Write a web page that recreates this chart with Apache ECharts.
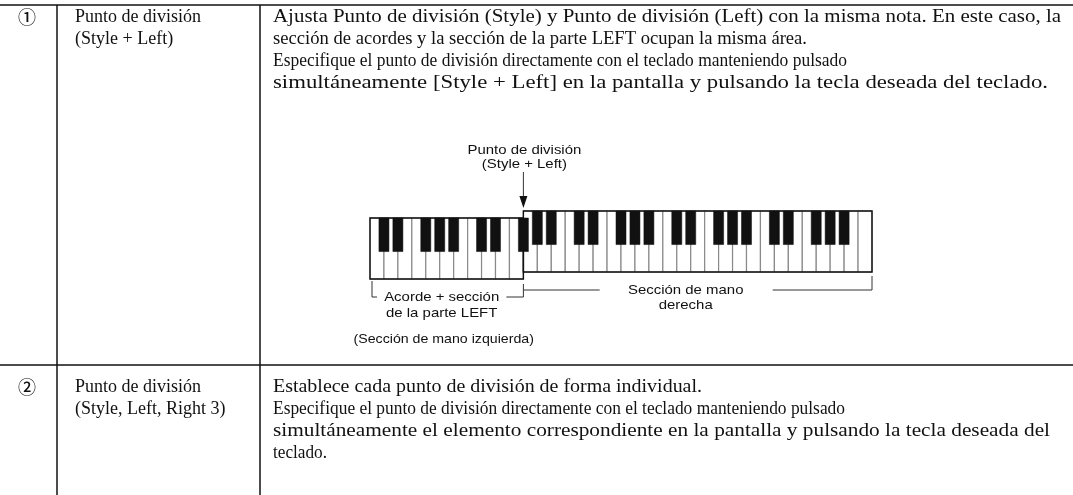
<!DOCTYPE html>
<html><head><meta charset="utf-8">
<script src="https://cdn.jsdelivr.net/npm/echarts@6/dist/echarts.min.js"></script>
<style>html,body{margin:0;padding:0;background:#fff}#c{width:1073px;height:495px}</style>
</head><body><div id="c"></div>
<script>
// ---- table content ----
const rowNumbers = ['①', '②'];
const rowTitles = [
  ['Punto de división', '(Style + Left)'],
  ['Punto de división', '(Style, Left, Right 3)']
];
const rowDescriptions = [
  ['Ajusta Punto de división (Style) y Punto de división (Left) con la misma nota. En este caso, la',
   'sección de acordes y la sección de la parte LEFT ocupan la misma área.',
   'Especifique el punto de división directamente con el teclado manteniendo pulsado',
   'simultáneamente [Style + Left] en la pantalla y pulsando la tecla deseada del teclado.'],
  ['Establece cada punto de división de forma individual.',
   'Especifique el punto de división directamente con el teclado manteniendo pulsado',
   'simultáneamente el elemento correspondiente en la pantalla y pulsando la tecla deseada del',
   'teclado.']
];
// ---- keyboard content ----
const whiteKeyNotes = ['C','D','E','F','G','A','B','C','D','E','F',
  'G','A','B','C','D','E','F','G','A','B','C','D','E','F','G','A','B','C','D','E','F','G','A','B','C'];
const blackKeyAfter = [0,1,3,4,5,7,8,10, 11,12,14,15,17,18,19,21,22,24,25,26,28,29,31,32,33];
const splitWhiteIndex = 11;
const splitLabel = ['Punto de división', '(Style + Left)'];
const leftSectionLabel = ['Acorde + sección', 'de la parte LEFT'];
const rightSectionLabel = ['Sección de mano', 'derecha'];
const leftHandNote = '(Sección de mano izquierda)';

// ---- layout (pixel widths the text lines occupy in the reference) ----
const descLineWidths = [[788, 534, 574, 775], [429, 572, 777, 54]];

const SERIF = "'Liberation Serif','Times New Roman',serif";
const SANS = "'Liberation Sans',Arial,sans-serif";
const SERIF_FONT = '18px ' + SERIF;
const SANS_FONT = '13px ' + SANS;
const SANS_STRETCH = 1.15;
const LEFT_DROP = 7;

const mctx = document.createElement('canvas').getContext('2d');
function measure(text, font) { mctx.font = font; return mctx.measureText(text).width; }

const chart = echarts.init(document.getElementById('c'), null, {renderer: 'canvas'});

const whiteData = whiteKeyNotes.map((n, i) => [i, i < splitWhiteIndex ? 0 : 1, n]);
const blackData = blackKeyAfter.map(i => [i + 1, i < splitWhiteIndex ? 0 : 1]);
const sectionData = [[0, splitWhiteIndex, 0], [splitWhiteIndex, whiteKeyNotes.length, 1]];

function whiteRender(params, api) {
  const i = api.value(0), sec = api.value(1);
  const p0 = api.coord([i, 1]), p1 = api.coord([i + 1, 0]);
  const dy = sec === 0 ? LEFT_DROP : 0;
  return {type: 'rect', shape: {x: p0[0], y: p0[1] + dy, width: p1[0] - p0[0], height: p1[1] - p0[1]},
    style: {fill: '#fff', stroke: '#8a8a8a', lineWidth: 1.2}};
}
function sectionRender(params, api) {
  const a = api.value(0), b = api.value(1), sec = api.value(2);
  const p0 = api.coord([a, 1]), p1 = api.coord([b, 0]);
  const dy = sec === 0 ? LEFT_DROP : 0;
  return {type: 'rect', shape: {x: p0[0], y: p0[1] + dy, width: p1[0] - p0[0], height: p1[1] - p0[1]},
    style: {fill: 'none', stroke: '#111', lineWidth: 1.4}};
}
function blackRender(params, api) {
  const c = api.value(0), sec = api.value(1);
  const top = api.coord([c, 1]), bot = api.coord([c, 0.45]);
  const w = api.size([0.72, 0])[0];
  const dy = sec === 0 ? LEFT_DROP : 0;
  return {type: 'rect', shape: {x: top[0] - w / 2, y: top[1] + dy, width: w, height: bot[1] - top[1]},
    style: {fill: '#111', stroke: '#111', lineWidth: 0.5}};
}

chart.setOption({
  animation: false,
  grid: {left: 370, width: 502, top: 211, height: 61},
  xAxis: {type: 'value', min: 0, max: whiteKeyNotes.length, show: false},
  yAxis: {type: 'value', min: 0, max: 1, show: false},
  series: [
    {type: 'custom', renderItem: whiteRender, data: whiteData, z: 1},
    {type: 'custom', renderItem: sectionRender, data: sectionData, z: 2},
    {type: 'custom', renderItem: blackRender, data: blackData, z: 3}
  ]
});

// ---- annotations positioned through the keyboard axis ----
const px = i => chart.convertToPixel({gridIndex: 0}, [i, 0]);
const xStart = px(0)[0], xSplit = px(splitWhiteIndex)[0], xEnd = px(whiteKeyNotes.length)[0];
const kbTop = chart.convertToPixel({gridIndex: 0}, [0, 1])[1];
const kbBot = px(0)[1];
const black = {stroke: '#111', lineWidth: 1.5, fill: 'none'};
const thin = {stroke: '#333', lineWidth: 1, fill: 'none'};
const g = [];

function sansText(t, cx, cy, stretch) {
  return {type: 'text', x: cx, y: cy, scaleX: stretch || SANS_STRETCH, originX: 0, originY: 0,
    style: {text: t, font: SANS_FONT, fill: '#111', textAlign: 'center', textVerticalAlign: 'middle'}};
}

// table lines
const colX = [57, 260];
const rowY = [5, 365];
g.push({type: 'line', shape: {x1: 0, y1: rowY[0], x2: 1073, y2: rowY[0]}, style: black});
g.push({type: 'line', shape: {x1: 0, y1: rowY[1], x2: 1073, y2: rowY[1]}, style: black});
colX.forEach(x => g.push({type: 'line', shape: {x1: x, y1: rowY[0], x2: x, y2: 495}, style: black}));

// table text
const rowTextTop = [17, 387];
const LH = 22;
const titleX = 75, descX = 273;
rowNumbers.forEach((n, r) => {
  g.push({type: 'text', x: 27, y: rowTextTop[r], style: {text: n, font: "500 18px 'Noto Sans CJK JP','DejaVu Sans',sans-serif", fill: '#111', textAlign: 'center', textVerticalAlign: 'middle'}});
  rowTitles[r].forEach((t, k) => g.push({type: 'text', x: titleX, y: rowTextTop[r] + k * LH,
    style: {text: t, font: SERIF_FONT, fill: '#111', textAlign: 'left', textVerticalAlign: 'middle'}}));
  rowDescriptions[r].forEach((t, k) => {
    const sx = descLineWidths[r][k] / measure(t, SERIF_FONT);
    g.push({type: 'text', x: descX, y: rowTextTop[r] + k * LH, scaleX: sx, originX: 0, originY: 0,
      style: {text: t, font: SERIF_FONT, fill: '#111', textAlign: 'left', textVerticalAlign: 'middle'}});
  });
});

// split point label + arrow
splitLabel.forEach((t, k) => g.push(sansText(t, xSplit + 1, 150 + k * 14)));
g.push({type: 'line', shape: {x1: xSplit, y1: 172, x2: xSplit, y2: 200}, style: thin});
g.push({type: 'polygon', shape: {points: [[xSplit - 4, 196], [xSplit + 4, 196], [xSplit, kbTop - 3]]}, style: {fill: '#111'}});

// left bracket
const lbTop = kbBot + LEFT_DROP + 2, lbY = 297;
const lMid = (xStart + xSplit) / 2 - 5;
g.push({type: 'polyline', shape: {points: [[xStart + 2, lbTop], [xStart + 2, lbY], [xStart + 7, lbY]]}, style: thin});
g.push({type: 'polyline', shape: {points: [[xSplit - 17, lbY], [xSplit, lbY], [xSplit, lbTop + 3]]}, style: thin});
leftSectionLabel.forEach((t, k) => g.push(sansText(t, lMid, lbY + k * 16)));
g.push(sansText(leftHandNote, lMid + 2, 339, 1.09));

// right bracket
const rbY = 290;
const rMid = (xSplit + xEnd) / 2 - 12;
g.push({type: 'line', shape: {x1: xSplit, y1: rbY, x2: rMid - 86, y2: rbY}, style: thin});
g.push({type: 'polyline', shape: {points: [[rMid + 87, rbY], [xEnd, rbY], [xEnd, kbBot + 4]]}, style: thin});
rightSectionLabel.forEach((t, k) => g.push(sansText(t, rMid, rbY + k * 15)));

chart.setOption({graphic: {elements: g}});
</script>
</body></html>
